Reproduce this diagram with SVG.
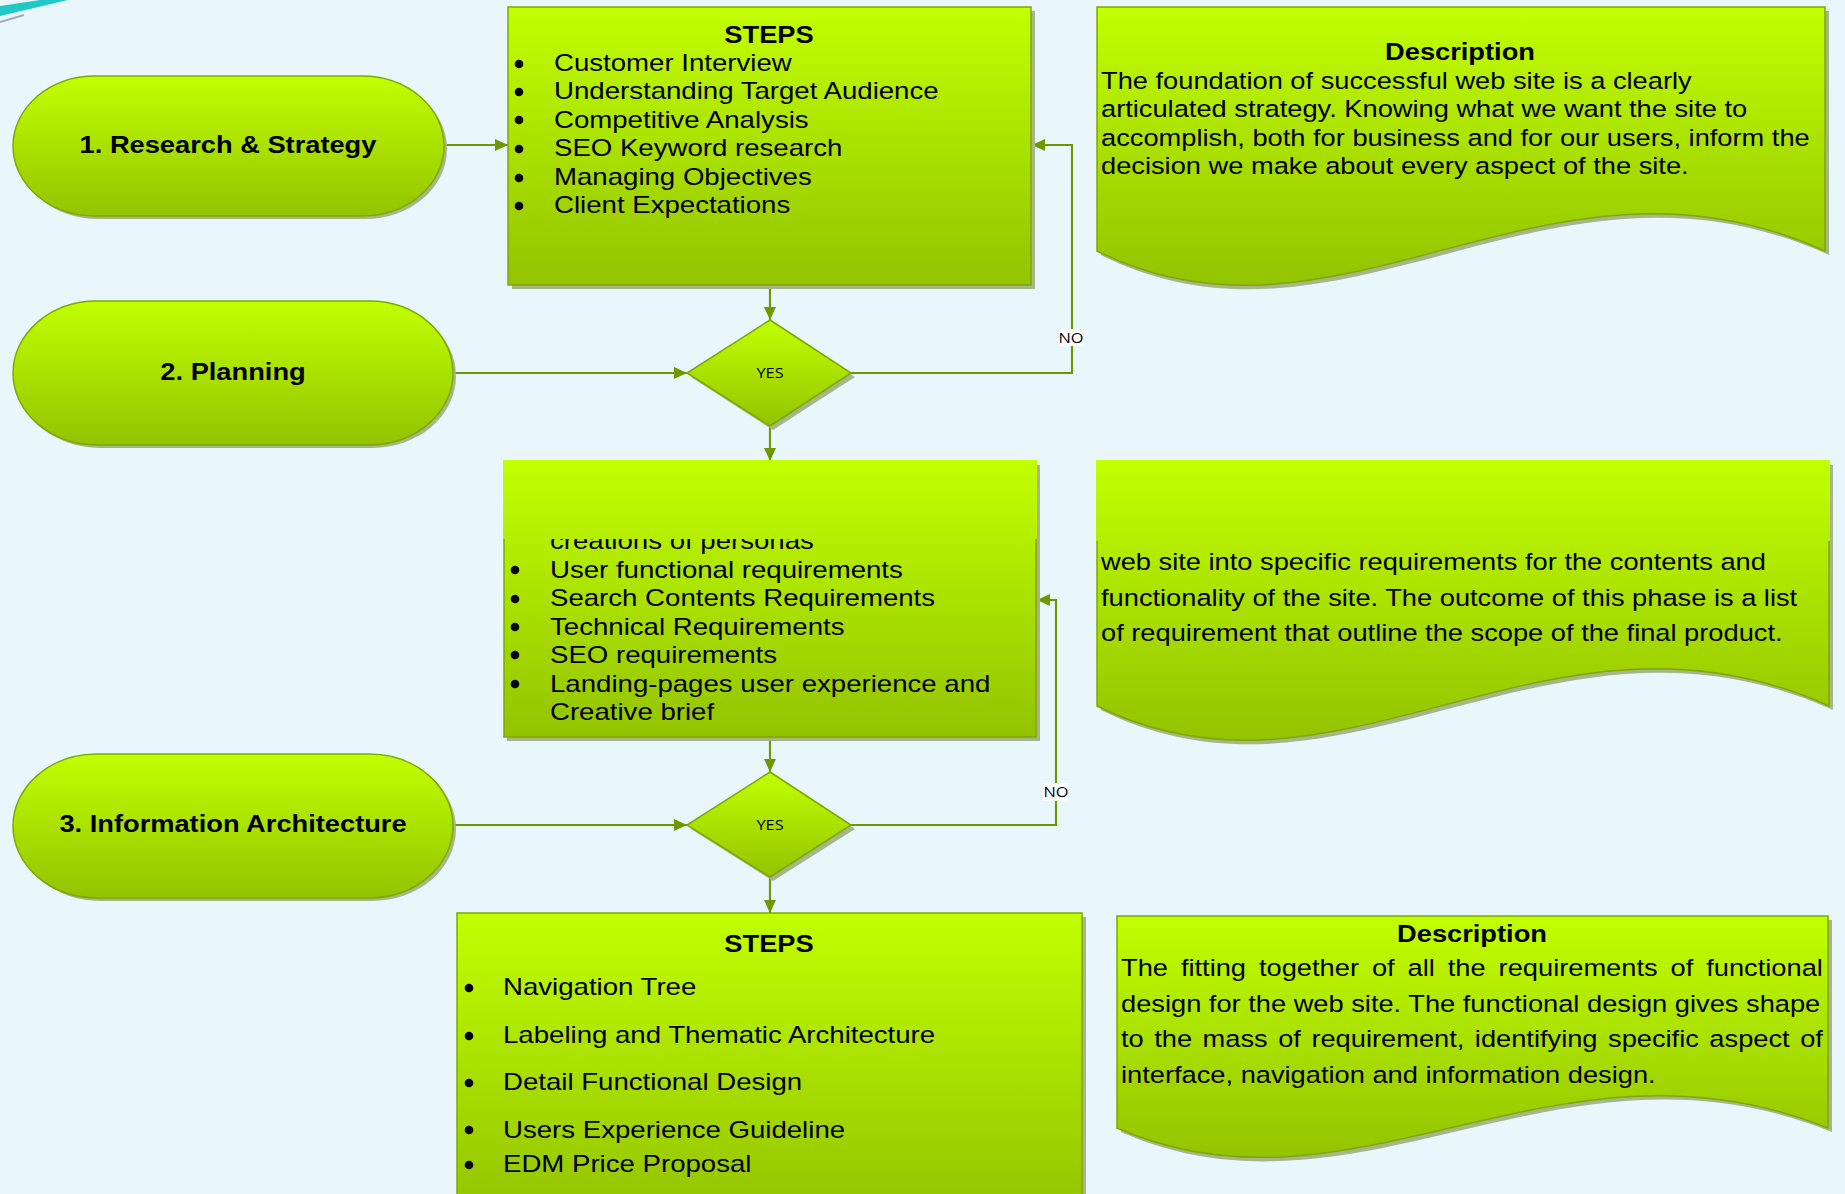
<svg xmlns="http://www.w3.org/2000/svg" width="1845" height="1194" viewBox="0 0 1845 1194">
<defs>
<style>
.t{font-family:"Liberation Sans",Arial,sans-serif;font-size:23.3px;fill:#000}
.l{font-family:"Liberation Sans",Arial,sans-serif;font-size:23.6px;fill:#000}
.b{font-family:"Liberation Sans",Arial,sans-serif;font-size:23.3px;font-weight:bold;fill:#000}
.s{font-family:"Open Sans","Noto Sans",sans-serif;font-size:14px;fill:#000}
.shape{fill:url(#g);stroke:#7fa800;stroke-width:1.5}
.shd{fill:#a5b68a}
.con{fill:none;stroke:#6f9800;stroke-width:2.2}
.dot{fill:#000}
</style>
<linearGradient id="g" x1="0" y1="0" x2="0" y2="1">
<stop offset="0" stop-color="#c2ff00"/>
<stop offset="1" stop-color="#94c300"/>
</linearGradient>
<linearGradient id="g2" gradientUnits="userSpaceOnUse" x1="0" y1="461" x2="0" y2="737">
<stop offset="0" stop-color="#c2ff00"/>
<stop offset="1" stop-color="#94c300"/>
</linearGradient>
<linearGradient id="g3" gradientUnits="userSpaceOnUse" x1="0" y1="461" x2="0" y2="740">
<stop offset="0" stop-color="#c2ff00"/>
<stop offset="1" stop-color="#94c300"/>
</linearGradient>
<marker id="ah" viewBox="0 0 13 12" refX="13" refY="6" markerWidth="13" markerHeight="12" markerUnits="userSpaceOnUse" orient="auto">
<path d="M0,0 L13,6 L0,12 z" fill="#6f9800"/>
</marker>
</defs>
<rect width="1845" height="1194" fill="#e9f7fc"/>
<polygon points="0,6 40,0 68,0 0,16" fill="#22c9c4"/>
<line x1="0" y1="22" x2="24" y2="15" stroke="#9aaebb" stroke-width="2"/>

<g id="connectors">
<path class="con" d="M444,145 H508" marker-end="url(#ah)"/>
<path class="con" d="M770,286 V320" marker-end="url(#ah)"/>
<path class="con" d="M453,373 H687" marker-end="url(#ah)"/>
<path class="con" d="M851,373 H1072 V145 H1032" marker-end="url(#ah)"/>
<path class="con" d="M770,426 V461" marker-end="url(#ah)"/>
<path class="con" d="M770,738 V772" marker-end="url(#ah)"/>
<path class="con" d="M453,825 H687" marker-end="url(#ah)"/>
<path class="con" d="M851,825 H1056 V600 H1037" marker-end="url(#ah)"/>
<path class="con" d="M770,877 V913" marker-end="url(#ah)"/>
<rect x="1059" y="329" width="24" height="17" fill="#fff"/>
<text class="s" transform="translate(1071,343) scale(1.17,1)" text-anchor="middle">NO</text>
<rect x="1044" y="783" width="24" height="18" fill="#fff"/>
<text class="s" transform="translate(1056,797) scale(1.17,1)" text-anchor="middle">NO</text>
</g>

<g id="pill1">
<rect class="shd" x="16" y="79" width="431" height="140" rx="82" ry="70"/>
<rect class="shape" x="13" y="76" width="431" height="140" rx="82" ry="70"/>
<text class="b" transform="translate(228,153) scale(1.17,1)" text-anchor="middle">1. Research &amp; Strategy</text>
</g>

<g id="pill2">
<rect class="shd" x="16" y="304" width="440" height="144" rx="84" ry="72"/>
<rect class="shape" x="13" y="301" width="440" height="144" rx="84" ry="72"/>
<text class="b" transform="translate(233,380) scale(1.17,1)" text-anchor="middle">2. Planning</text>
</g>

<g id="pill3">
<rect class="shd" x="16" y="757" width="440" height="144" rx="84" ry="72"/>
<rect class="shape" x="13" y="754" width="440" height="144" rx="84" ry="72"/>
<text class="b" transform="translate(233,832) scale(1.17,1)" text-anchor="middle">3. Information Architecture</text>
</g>

<g id="steps1">
<rect class="shd" x="512" y="11" width="523" height="278"/>
<rect class="shape" x="508" y="7" width="523" height="278"/>
<text class="b" transform="translate(769,43) scale(1.17,1)" text-anchor="middle">STEPS</text>
<circle class="dot" cx="519" cy="64" r="4.3"/>
<circle class="dot" cx="519" cy="92" r="4.3"/>
<circle class="dot" cx="519" cy="120" r="4.3"/>
<circle class="dot" cx="519" cy="149" r="4.3"/>
<circle class="dot" cx="519" cy="178" r="4.3"/>
<circle class="dot" cx="519" cy="206" r="4.3"/>
<g transform="translate(554,0) scale(1.17,1)">
<text class="l" x="0" y="71">Customer Interview</text>
<text class="l" x="0" y="99">Understanding Target Audience</text>
<text class="l" x="0" y="128">Competitive Analysis</text>
<text class="l" x="0" y="156">SEO Keyword research</text>
<text class="l" x="0" y="185">Managing Objectives</text>
<text class="l" x="0" y="213">Client Expectations</text>
</g>
</g>

<g id="desc1">
<path class="shd" d="M1101,11 H1829 V255 C1550,128 1343,376 1101,255 Z"/>
<path class="shape" d="M1097,7 H1825 V251 C1546,124 1340,372 1097,251 Z"/>
<text class="b" transform="translate(1460,60) scale(1.17,1)" text-anchor="middle">Description</text>
<g transform="translate(1101,0) scale(1.17,1)">
<text class="t" x="0" y="89">The foundation of successful web site is a clearly</text>
<text class="t" x="0" y="117">articulated strategy. Knowing what we want the site to</text>
<text class="t" x="0" y="146">accomplish, both for business and for our users, inform the</text>
<text class="t" x="0" y="174">decision we make about every aspect of the site.</text>
</g>
</g>

<g id="decision1">
<polygon class="shd" points="773,324 855,377 773,430 691,377"/>
<polygon class="shape" points="770,320 851,373 770,426 687,373"/>
<text class="s" transform="translate(770,378) scale(1.17,1)" text-anchor="middle">YES</text>
</g>

<g id="steps2">
<rect class="shd" x="507" y="465" width="533" height="276"/>
<rect x="504" y="461" width="532" height="276" fill="url(#g2)" stroke="#7fa800" stroke-width="1.5"/>
<circle class="dot" cx="515" cy="570" r="4.3"/>
<circle class="dot" cx="515" cy="599" r="4.3"/>
<circle class="dot" cx="515" cy="627" r="4.3"/>
<circle class="dot" cx="515" cy="655" r="4.3"/>
<circle class="dot" cx="515" cy="684" r="4.3"/>
<g transform="translate(550,0) scale(1.17,1)">
<text class="l" x="0" y="549.5">creations of personas</text>
<text class="l" x="0" y="578">User functional requirements</text>
<text class="l" x="0" y="606">Search Contents Requirements</text>
<text class="l" x="0" y="635">Technical Requirements</text>
<text class="l" x="0" y="663">SEO requirements</text>
<text class="l" x="0" y="692">Landing-pages user experience and</text>
<text class="l" x="0" y="720">Creative brief</text>
</g>
<rect x="503" y="460" width="534" height="79" fill="url(#g2)"/>
</g>

<g id="desc2">
<path class="shd" d="M1101,465 H1833 V710 C1552,583 1345,831 1101,710 Z"/>
<path d="M1097,461 H1829 V706 C1548,579 1341,827 1097,706 Z" fill="url(#g3)" stroke="#7fa800" stroke-width="1.5"/>
<g transform="translate(1101,0) scale(1.17,1)">
<text class="t" x="0" y="570">web site into specific requirements for the contents and</text>
<text class="t" x="0" y="606">functionality of the site. The outcome of this phase is a list</text>
<text class="t" x="0" y="641">of requirement that outline the scope of the final product.</text>
</g>
<rect x="1096" y="460" width="734" height="81" fill="url(#g3)"/>
</g>

<g id="decision2">
<polygon class="shd" points="773,776 855,829 773,881 691,829"/>
<polygon class="shape" points="770,772 851,825 770,877 687,825"/>
<text class="s" transform="translate(770,830) scale(1.17,1)" text-anchor="middle">YES</text>
</g>

<g id="steps3">
<rect class="shd" x="461" y="917" width="625" height="300"/>
<rect class="shape" x="457" y="913" width="625" height="300"/>
<text class="b" transform="translate(769,952) scale(1.17,1)" text-anchor="middle">STEPS</text>
<circle class="dot" cx="469" cy="988" r="4.3"/>
<circle class="dot" cx="469" cy="1036" r="4.3"/>
<circle class="dot" cx="469" cy="1083" r="4.3"/>
<circle class="dot" cx="469" cy="1130" r="4.3"/>
<circle class="dot" cx="469" cy="1165" r="4.3"/>
<g transform="translate(503,0) scale(1.17,1)">
<text class="l" x="0" y="995">Navigation Tree</text>
<text class="l" x="0" y="1043">Labeling and Thematic Architecture</text>
<text class="l" x="0" y="1090">Detail Functional Design</text>
<text class="l" x="0" y="1138">Users Experience Guideline</text>
<text class="l" x="0" y="1172">EDM Price Proposal</text>
</g>
</g>

<g id="desc3">
<path class="shd" d="M1121,920 H1832 V1132 C1560,1022 1358,1236 1121,1132 Z"/>
<path class="shape" d="M1117,916 H1828 V1128 C1556,1018 1354,1232 1117,1128 Z"/>
<text class="b" transform="translate(1472,942) scale(1.17,1)" text-anchor="middle">Description</text>
<g transform="translate(1121,0) scale(1.17,1)">
<text class="t" x="0" y="976" word-spacing="4.6">The fitting together of all the requirements of functional</text>
<text class="t" x="0" y="1012">design for the web site. The functional design gives shape</text>
<text class="t" x="0" y="1047" word-spacing="2.5">to the mass of requirement, identifying specific aspect of</text>
<text class="t" x="0" y="1083">interface, navigation and information design.</text>
</g>
</g>
</svg>
